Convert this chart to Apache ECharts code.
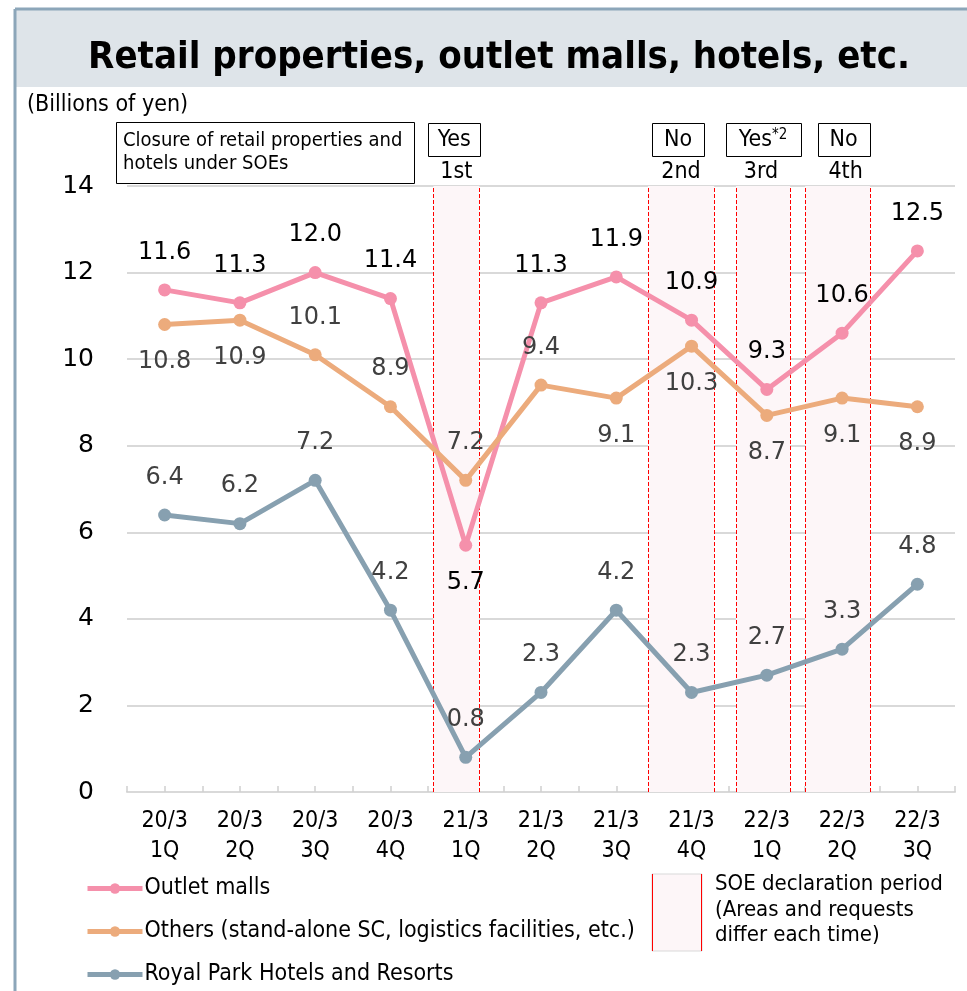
<!DOCTYPE html>
<html>
<head>
<meta charset="utf-8">
<script src="https://cdn.jsdelivr.net/npm/echarts@6/dist/echarts.min.js"></script>
<style>
  html, body { margin: 0; padding: 0; background: #fff; }
  #chart { width: 967px; height: 991px; }
</style>
</head>
<body>
<div id="chart"></div>
<script>
const categories = ["20/3\n1Q", "20/3\n2Q", "20/3\n3Q", "20/3\n4Q", "21/3\n1Q", "21/3\n2Q", "21/3\n3Q", "21/3\n4Q", "22/3\n1Q", "22/3\n2Q", "22/3\n3Q"];
const outletMalls = [11.6, 11.3, 12.0, 11.4, 5.7, 11.3, 11.9, 10.9, 9.3, 10.6, 12.5];
const others = [10.8, 10.9, 10.1, 8.9, 7.2, 9.4, 9.1, 10.3, 8.7, 9.1, 8.9];
const royalPark = [6.4, 6.2, 7.2, 4.2, 0.8, 2.3, 4.2, 2.3, 2.7, 3.3, 4.8];
const yTicks = { min: 0, max: 14, step: 2 };

// SOE declaration periods, measured in quarters from the left edge of the axis
const soePeriods = [[4.07, 4.68], [6.92, 7.80], [8.09, 8.81], [9.01, 9.87]];
const soeClosure = ["Yes", "No", "Yes", "No"];
const soeOrdinal = ["1st", "2nd", "3rd", "4th"];
const soeNote = ["", "", "*2", ""];

const seriesNames = ["Outlet malls", "Others (stand-alone SC, logistics facilities, etc.)", "Royal Park Hotels and Resorts"];
const colors = ["#f590ab", "#ecab7c", "#87a0b0"];

// where each value label sits
const outletLabelAt = ["top", "top", "top", "top", "bottom", "top", "top", "top", "top", "top", "top"];
const othersLabelAt = ["bottom", "bottom", "top", "top", "top", "top", "bottom", "bottom", "bottom", "bottom", "bottom"];
const royalLabelAt = royalPark.map(() => "top");

// small nudges of the header boxes relative to the period centre (px)
const boxNudge = [-2, -3, 0, 6];
const ordinalNudge = [0, 0, -2, 8];

const TEXT_FONT = "'DejaVu Sans Condensed', 'DejaVu Sans', sans-serif";
const NUM_FONT = "'DejaVu Sans', sans-serif";

function lineSeries(name, values, labelAt, color, labelColor) {
  return {
    name,
    type: "line",
    z: 5,
    data: values.map((v, i) => ({
      value: v,
      label: { position: labelAt[i] }
    })),
    symbol: "circle",
    symbolSize: 13,
    lineStyle: { width: 5, color },
    itemStyle: { color },
    label: {
      show: true,
      distance: 19,
      fontSize: 24,
      fontFamily: NUM_FONT,
      color: labelColor,
      formatter: (p) => p.value.toFixed(1)
    }
  };
}

const chart = echarts.init(document.getElementById("chart"), null, { renderer: "canvas" });

chart.setOption({
  animation: false,
  color: colors,
  grid: { left: 127, right: 12, top: 186, bottom: 199 },
  xAxis: [
    {
      type: "category",
      data: categories,
      boundaryGap: true,
      axisLine: { lineStyle: { color: "#d9d9d9", width: 2 } },
      axisTick: { show: false },
      axisLabel: { color: "#000", fontSize: 23, lineHeight: 30, margin: 14, fontFamily: TEXT_FONT, interval: 0 }
    },
    {
      type: "value",
      min: 0,
      max: categories.length,
      interval: 0.5,
      position: "bottom",
      axisLine: { show: false },
      axisTick: { show: true, inside: true, length: 6, lineStyle: { color: "#d0d0d0", width: 1.5 } },
      axisLabel: { show: false },
      splitLine: { show: false }
    }
  ],
  yAxis: {
    type: "value",
    min: yTicks.min,
    max: yTicks.max,
    interval: yTicks.step,
    axisLine: { show: false },
    axisTick: { show: false },
    axisLabel: { color: "#000", fontSize: 25, fontFamily: NUM_FONT, margin: 33 },
    splitLine: { lineStyle: { color: "#d9d9d9", width: 2 } }
  },
  legend: {
    data: seriesNames,
    orient: "vertical",
    left: 85,
    top: 877,
    padding: 0,
    itemWidth: 55,
    itemHeight: 13,
    itemGap: 20,
    lineStyle: { width: 5 },
    textStyle: { color: "#000", fontSize: 23, fontFamily: TEXT_FONT, padding: [0, 0, 0, -3] }
  },
  series: [
    {
      name: "soe",
      type: "line",
      xAxisIndex: 1,
      data: [],
      z: 1,
      silent: true,
      markArea: {
        silent: true,
        itemStyle: { color: "#fdf6f8" },
        data: soePeriods.map(([a, b]) => [{ xAxis: a }, { xAxis: b }])
      },
      markLine: {
        silent: true,
        symbol: "none",
        label: { show: false },
        lineStyle: { color: "#ff0000", width: 1, type: [4, 2] },
        data: soePeriods.flat().map((x) => ({ xAxis: x }))
      }
    },
    lineSeries(seriesNames[0], outletMalls, outletLabelAt, colors[0], "#000"),
    lineSeries(seriesNames[1], others, othersLabelAt, colors[1], "#404040"),
    lineSeries(seriesNames[2], royalPark, royalLabelAt, colors[2], "#404040")
  ]
});

function drawDecorations() {
  const g = [];
  // title band and frame
  g.push({ type: "rect", shape: { x: 15, y: 9, width: 960, height: 78 }, style: { fill: "#dee4e9" }, z: 0 });
  g.push({ type: "line", shape: { x1: 15, y1: 9, x2: 967, y2: 9 }, style: { stroke: "#8ca6b9", lineWidth: 3 } });
  g.push({ type: "line", shape: { x1: 15, y1: 9, x2: 15, y2: 991 }, style: { stroke: "#8ca6b9", lineWidth: 3 } });
  g.push({
    type: "text", x: 499, y: 58,
    style: { text: "Retail properties, outlet malls, hotels, etc.", fill: "#000", font: "bold 38px " + TEXT_FONT, textAlign: "center", textVerticalAlign: "middle" }
  });
  g.push({
    type: "text", x: 27, y: 105,
    style: { text: "(Billions of yen)", fill: "#000", font: "23px " + TEXT_FONT, textVerticalAlign: "middle" }
  });
  // closure header box
  g.push({ type: "rect", shape: { x: 116.5, y: 122.5, width: 298, height: 61 }, style: { fill: "#fff", stroke: "#000", lineWidth: 1 } });
  g.push({
    type: "text", x: 123, y: 129,
    style: { text: "Closure of retail properties and\nhotels under SOEs", fill: "#000", font: "20px " + TEXT_FONT, lineHeight: 23 }
  });
  // closure boxes per SOE
  soePeriods.forEach(([a, b], i) => {
    const cx = chart.convertToPixel({ xAxisIndex: 1 }, (a + b) / 2);
    const bx = cx + boxNudge[i];
    const w = soeNote[i] ? 75 : 52;
    g.push({ type: "rect", shape: { x: Math.round(bx - w / 2) + 0.5, y: 123.5, width: w, height: 33 }, style: { fill: "#fff", stroke: "#000", lineWidth: 1 } });
    g.push({
      type: "text", x: bx, y: 140,
      style: {
        text: "{a|" + soeClosure[i] + "}" + (soeNote[i] ? "{s|" + soeNote[i] + "}" : ""),
        rich: {
          a: { fontSize: 23, fontFamily: TEXT_FONT, color: "#000" },
          s: { fontSize: 15, fontFamily: TEXT_FONT, color: "#000", verticalAlign: "top", padding: [0, 0, 10, 0] }
        },
        textAlign: "center", textVerticalAlign: "middle"
      }
    });
    g.push({
      type: "text", x: cx + ordinalNudge[i], y: 172,
      style: { text: soeOrdinal[i], fill: "#000", font: "23px " + TEXT_FONT, textAlign: "center", textVerticalAlign: "middle" }
    });
  });
  // SOE legend
  g.push({ type: "rect", shape: { x: 652, y: 874, width: 50, height: 77 }, style: { fill: "#fdf6f8", stroke: "#d9d9d9", lineWidth: 1 } });
  g.push({ type: "line", shape: { x1: 652.5, y1: 874, x2: 652.5, y2: 951 }, style: { stroke: "#ff0000", lineWidth: 1 } });
  g.push({ type: "line", shape: { x1: 701.5, y1: 874, x2: 701.5, y2: 951 }, style: { stroke: "#ff0000", lineWidth: 1 } });
  g.push({
    type: "text", x: 715, y: 872,
    style: { text: "SOE declaration period\n(Areas and requests\ndiffer each time)", fill: "#000", font: "22px " + TEXT_FONT, lineHeight: 25.5 }
  });
  chart.setOption({ graphic: { elements: g } });
}

drawDecorations();
</script>
</body>
</html>
